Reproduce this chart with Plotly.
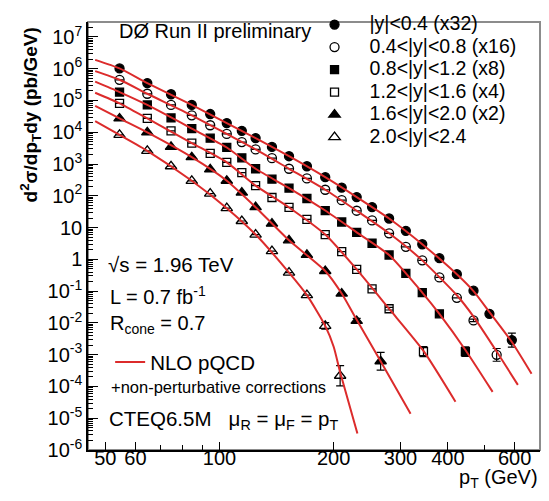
import plotly.graph_objects as go

# ---------------------------------------------------------------------------
# Inclusive jet cross section, D0 Run II, six rapidity regions (scaled)
# ---------------------------------------------------------------------------
PT_BINS = [54.5, 64.5, 74.5, 84.5, 94.5, 104.5, 114.5, 124.5, 137.5, 152.5,
           170, 190, 210, 230, 252.5, 280, 310, 342.5, 380, 422.5, 467.5, 515]

RAP_LABELS = ["|y|&lt;0.4 (x32)", "0.4&lt;|y|&lt;0.8 (x16)", "0.8&lt;|y|&lt;1.2 (x8)",
              "1.2&lt;|y|&lt;1.6 (x4)", "1.6&lt;|y|&lt;2.0 (x2)", "2.0&lt;|y|&lt;2.4"]

# measured points: pT (GeV), d2sigma/dpT dy (pb/GeV), total uncertainty (dex)
pt_y1 = PT_BINS + [590]
xs_y1 = [1.02e6, 3.53e5, 1.57e5, 7.24e4, 3.75e4, 1.95e4, 1.11e4, 6.55e3, 3.45e3, 1.76e3,
         851, 385, 181, 91.2, 44.2, 19.3, 7.89, 2.99, 1.09, 0.341, 0.1035, 0.0193, 2.88e-3]
err_y1 = [0] * 21 + [0.05, 0.22]

pt_y2 = PT_BINS[:21] + [538]
xs_y2 = [4.48e5, 1.63e5, 7.24e4, 3.42e4, 1.66e4, 8.85e3, 4.90e3, 2.88e3, 1.53e3, 710,
         352, 155, 73.1, 33.9, 16.8, 6.61, 2.48, 0.929, 0.269, 0.0617, 0.0120, 9.86e-4]
err_y2 = [0] * 20 + [0.04, 0.2]

pt_y3 = PT_BINS[:19] + [445]
xs_y3 = [1.84e5, 7.24e4, 2.83e4, 1.31e4, 6.50e3, 3.32e3, 1.57e3, 710, 335, 175,
         82.4, 34.4, 15.0, 7.10, 3.21, 1.37, 0.361, 0.0900, 0.0193, 1.25e-3]
err_y3 = [0] * 18 + [0.04, 0.15]

pt_y4 = PT_BINS[:16] + [345]
xs_y4 = [8.11e4, 2.72e4, 1.11e4, 4.58e3, 2.18e3, 1.13e3, 536, 209, 88.5, 43.0,
         18.0, 6.04, 1.75, 0.484, 0.117, 0.0279, 1.25e-3]
err_y4 = [0] * 15 + [0.04, 0.16]

pt_y5 = PT_BINS[:14] + [266]
xs_y5 = [2.72e4, 9.89e3, 3.46e3, 1.64e3, 676, 298, 126, 43.9, 13.3, 3.96,
         1.38, 0.430, 0.0839, 0.0115, 6.21e-4]
err_y5 = [0] * 13 + [0.08, 0.28]

pt_y6 = PT_BINS[:12] + [208]
xs_y6 = [8.24e3, 2.61e3, 851, 297, 117, 40.9, 16.1, 6.04, 1.81, 0.381,
         0.0745, 8.07e-3, 2.17e-4]
err_y6 = [0] * 11 + [0.1, 0.32]

# NLO pQCD (CTEQ6.5M) x non-perturbative corrections, same scale factors
th_pt1 = [47, 54.5, 64.5, 84.5, 104.5, 124.5, 152.5, 190, 230, 280, 342.5, 422.5, 467.5,
          515, 590, 665]
th_xs1 = [1.90e6, 1.02e6, 3.53e5, 7.24e4, 1.95e4, 6.55e3, 1.76e3, 385, 91.2, 19.3,
          2.99, 0.341, 0.100, 0.0219, 2.51e-3, 2.51e-4]
th_pt2 = [47, 54.5, 64.5, 84.5, 104.5, 124.5, 152.5, 190, 230, 280, 342.5, 422.5, 467.5, 538, 612]
th_xs2 = [8.41e5, 4.48e5, 1.63e5, 3.42e4, 8.85e3, 2.88e3, 710, 155, 33.9, 6.61,
          0.929, 0.0741, 0.0158, 1.26e-3, 1.12e-4]
th_pt3 = [47, 54.5, 64.5, 84.5, 104.5, 124.5, 152.5, 190, 230, 280, 342.5, 380, 445, 525]
th_xs3 = [3.90e5, 1.84e5, 7.24e4, 1.31e4, 3.32e3, 710, 175, 34.4, 7.10, 1.37,
          0.0900, 0.0193, 1.41e-3, 6.76e-5]
th_pt4 = [47, 54.5, 64.5, 84.5, 104.5, 124.5, 152.5, 190, 230, 280, 345, 419]
th_xs4 = [1.75e5, 8.11e4, 2.72e4, 4.58e3, 1.13e3, 209, 43.0, 6.04, 0.484, 0.0279,
          1.32e-3, 3.31e-5]
th_pt5 = [47, 54.5, 64.5, 84.5, 104.5, 124.5, 152.5, 190, 210, 230, 266, 319]
th_xs5 = [6.76e4, 2.72e4, 9.89e3, 1.64e3, 298, 43.9, 3.96, 0.430, 0.0839, 0.0125,
          6.21e-4, 1.38e-5]
th_pt6 = [47, 54.5, 64.5, 84.5, 104.5, 124.5, 152.5, 170, 190, 200, 208, 231]
th_xs6 = [2.25e4, 8.24e3, 2.61e3, 297, 40.9, 6.04, 0.381, 0.0745, 8.07e-3, 1.78e-3,
          2.82e-4, 3.31e-6]

X_TICKS = [50, 60, 100, 200, 300, 400, 600]
X_MINOR = [70, 80, 90, 500]
Y_DECADES = list(range(-6, 8))
Y_TICKTEXT = ["10<sup>-6</sup>", "10<sup>-5</sup>", "10<sup>-4</sup>", "10<sup>-3</sup>",
              "10<sup>-2</sup>", "10<sup>-1</sup>", "1", "10", "10<sup>2</sup>",
              "10<sup>3</sup>", "10<sup>4</sup>", "10<sup>5</sup>", "10<sup>6</sup>",
              "10<sup>7</sup>"]

FONT = "Liberation Sans, Arial, Helvetica, sans-serif"
RED = "#dc2b2b"

series = [
    (pt_y1, xs_y1, err_y1, "circle", 9),
    (pt_y2, xs_y2, err_y2, "circle-open", 9),
    (pt_y3, xs_y3, err_y3, "square", 8),
    (pt_y4, xs_y4, err_y4, "square-open", 8),
    (pt_y5, xs_y5, err_y5, "triangle-up", 10),
    (pt_y6, xs_y6, err_y6, "triangle-up-open", 10),
]
theory = [(th_pt1, th_xs1), (th_pt2, th_xs2), (th_pt3, th_xs3),
          (th_pt4, th_xs4), (th_pt5, th_xs5), (th_pt6, th_xs6)]

fig = go.Figure()

for (pt, xs, err, sym, size), label in zip(series, RAP_LABELS):
    up = [v * (10 ** d - 1) if d > 0 else None for v, d in zip(xs, err)]
    dn = [v * (1 - 10 ** -d) if d > 0 else None for v, d in zip(xs, err)]
    fig.add_trace(go.Scatter(
        x=pt, y=xs, mode="markers",
        name=f'<span style="font-size:19.5px">{label}</span>',
        legend="legend",
        marker=dict(symbol=sym, size=size, color="black",
                    line=dict(color="black", width=1.3)),
        error_y=dict(type="data", array=up, arrayminus=dn, symmetric=False,
                     color="black", thickness=1.2, width=4),
    ))

for i, (tpt, txs) in enumerate(theory):
    fig.add_trace(go.Scatter(
        x=tpt, y=txs, mode="lines",
        line=dict(color=RED, width=2, shape="spline", smoothing=0.6),
        name="NLO pQCD", legend="legend2", showlegend=(i == 0),
    ))

y_minor = [m * 10 ** k for k in range(-6, 8) for m in range(2, 10) if m * 10 ** k < 2.9e7]


def note(text, x, y, size=20, anchor="left"):
    return dict(text=text, x=x, y=y, xref="paper", yref="paper", showarrow=False,
                xanchor=anchor, yanchor="middle", font=dict(family=FONT, size=size, color="black"))


annotations = [
    note("DØ Run II preliminary", 0.064, 0.980),
    note("√s = 1.96 TeV", 0.040, 0.433, size=20.5),
    note("L = 0.7 fb<sup>-1</sup>", 0.045, 0.362),
    note("R<sub>cone</sub> = 0.7", 0.045, 0.293),
    note("+non-perturbative corrections", 0.046, 0.147, size=16.5),
    note("CTEQ6.5M   μ<sub>R</sub> = μ<sub>F</sub> = p<sub>T</sub>", 0.042, 0.070, size=20.5),
    note("p<sub>T</sub> (GeV)", 1.0, -0.066, anchor="right"),
    dict(text="<b>d<sup>2</sup>σ/dp<sub>T</sub>dy (pb/GeV)</b>", x=-0.128, y=0.782,
         xref="paper", yref="paper", showarrow=False, textangle=-90,
         xanchor="center", yanchor="middle", font=dict(family=FONT, size=19, color="black")),
]

fig.update_layout(
    width=549, height=501,
    margin=dict(l=88, r=9, t=8, b=51),
    paper_bgcolor="white", plot_bgcolor="white",
    font=dict(family=FONT, size=20, color="black"),
    showlegend=True,
    legend=dict(x=0.468, y=1.032, xanchor="left", yanchor="top",
                bgcolor="rgba(0,0,0,0)", borderwidth=0, itemwidth=60,
                font=dict(family=FONT, size=15, color="black"), traceorder="normal"),
    legend2=dict(x=0.049, y=0.252, xanchor="left", yanchor="top",
                 bgcolor="rgba(0,0,0,0)", borderwidth=0, itemwidth=30,
                 font=dict(family=FONT, size=20.5, color="black")),
    annotations=annotations,
    shapes=[dict(type="rect", xref="paper", yref="paper", x0=0, y0=0, x1=1, y1=1,
                 line=dict(color="#8c8c8c", width=2), layer="below")],
)

fig.update_xaxes(
    type="log", range=[1.6532, 2.8451],
    tickmode="array", tickvals=X_TICKS, ticktext=[str(v) for v in X_TICKS],
    ticks="inside", ticklen=8, tickwidth=1, tickcolor="black",
    ticklabelstandoff=-11,
    tickfont=dict(family=FONT, size=20, color="black"),
    showline=True, linecolor="black", linewidth=1.5, mirror=False,
    showgrid=False, zeroline=False,
    minor=dict(tickmode="array", tickvals=X_MINOR, ticks="inside", ticklen=5,
               tickcolor="black", showgrid=False),
)
fig.update_yaxes(
    type="log", range=[-6, 7.47],
    tickmode="array", tickvals=[10.0 ** k for k in Y_DECADES], ticktext=Y_TICKTEXT,
    ticks="inside", ticklen=10, tickwidth=1, tickcolor="black",
    tickfont=dict(family=FONT, size=20, color="black"),
    showline=True, linecolor="black", linewidth=1.5, mirror=False,
    showgrid=False, zeroline=False,
    minor=dict(tickmode="array", tickvals=y_minor, ticks="inside", ticklen=5,
               tickcolor="black", showgrid=False),
)

fig.write_html("out.html")
